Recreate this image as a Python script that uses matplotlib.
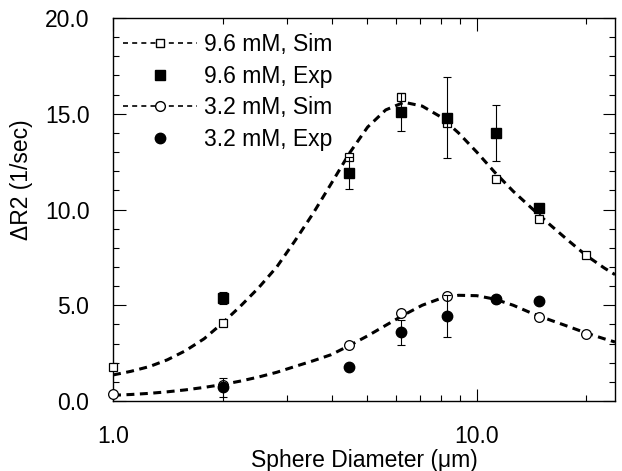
import matplotlib
matplotlib.use("Agg")
import matplotlib.pyplot as plt
from matplotlib.lines import Line2D
from matplotlib.ticker import FixedLocator, NullFormatter, MultipleLocator, FormatStrFormatter, LogLocator

plt.rcParams['font.family'] = ['Liberation Sans', 'DejaVu Sans']

# simulated points
x_sim = [1.0, 2.0, 4.45, 6.2, 8.3, 11.3, 14.8, 20.0]
sim_96 = [1.78, 4.07, 12.74, 15.9, 14.5, 11.6, 9.5, 7.6]
sim_32 = [0.35, 0.83, 2.9, 4.6, 5.48, 5.35, 4.39, 3.5]

# experimental points
x_exp = [2.0, 4.45, 6.2, 8.3, 11.3, 14.8]
exp_96 = [5.38, 11.9, 15.1, 14.8, 14.0, 10.1]
err_96 = [0.3, 0.85, 1.0, 2.1, 1.45, 0.0]
exp_32 = [0.72, 1.78, 3.6, 4.44, 5.35, 5.22]
err_32 = [0.5, 0.0, 0.65, 1.1, 0.0, 0.0]

# dashed fit curves
curve_x = [1.0, 1.12, 1.26, 1.41, 1.58, 1.78, 2.0, 2.24, 2.51, 2.82, 3.16, 3.55, 3.98,
           4.47, 5.01, 5.62, 6.31, 7.08, 7.94, 8.91, 10.0, 11.2, 12.6, 14.1, 15.8,
           17.8, 20.0, 22.4, 24.0]
curve_96 = [1.36, 1.55, 1.8, 2.15, 2.62, 3.25, 4.07, 4.95, 5.9, 7.0, 8.35, 9.8, 11.35,
            12.95, 14.3, 15.2, 15.6, 15.4, 14.85, 14.0, 13.0, 11.95, 10.95, 10.1, 9.25,
            8.4, 7.6, 6.95, 6.6]
curve_32 = [0.3, 0.34, 0.4, 0.48, 0.58, 0.71, 0.86, 1.04, 1.25, 1.5, 1.8, 2.1, 2.42,
            2.9, 3.4, 3.95, 4.5, 5.0, 5.35, 5.52, 5.5, 5.32, 5.0, 4.6, 4.25,
            3.9, 3.55, 3.25, 3.08]

labels = ["9.6 mM, Sim", "9.6 mM, Exp", "3.2 mM, Sim", "3.2 mM, Exp"]

fig = plt.figure(figsize=(6.22, 4.71), dpi=100)
ax = fig.add_axes([0.1817, 0.1486, 0.8071, 0.8132])

dash = (0, (2.6, 1.8))
ax.plot(curve_x, curve_96, color='black', lw=2.2, ls=dash, zorder=2)
ax.plot(curve_x, curve_32, color='black', lw=2.2, ls=dash, zorder=2)

ax.plot(x_sim, sim_96, ls='none', marker='s', ms=6, mfc='white', mec='black', mew=0.9,
        zorder=3, clip_on=False)
ax.plot(x_sim, sim_32, ls='none', marker='o', ms=7, mfc='white', mec='black', mew=0.9,
        zorder=3, clip_on=False)

ax.errorbar(x_exp, exp_96, yerr=err_96, fmt='s', ms=6.5, color='black', ecolor='black',
            elinewidth=0.8, capsize=3.2, capthick=0.8, zorder=4)
ax.errorbar(x_exp, exp_32, yerr=err_32, fmt='o', ms=7.5, color='black', ecolor='black',
            elinewidth=0.8, capsize=3.2, capthick=0.8, zorder=4)

ax.set_xscale('log')
ax.set_xlim(1.0, 24.0)
ax.set_ylim(0.0, 20.0)

ax.xaxis.set_major_locator(FixedLocator([1.0, 10.0]))
ax.xaxis.set_major_formatter(FormatStrFormatter('%.1f'))
ax.xaxis.set_minor_locator(LogLocator(base=10, subs=range(2, 10)))
ax.xaxis.set_minor_formatter(NullFormatter())
ax.yaxis.set_major_locator(MultipleLocator(5.0))
ax.yaxis.set_minor_locator(MultipleLocator(1.0))
ax.yaxis.set_major_formatter(FormatStrFormatter('%.1f'))

ax.tick_params(which='both', direction='in', top=True, right=True, labelsize=16.5, pad=17, width=0.8)
ax.tick_params(which='major', length=9)
ax.tick_params(which='minor', length=4.5)
for s in ax.spines.values():
    s.set_linewidth(1.0)

ax.set_xlabel("Sphere Diameter (\u03bcm)", fontsize=16.5)
ax.xaxis.set_label_coords(0.5, -0.125)
ax.set_ylabel("\u0394R2 (1/sec)", fontsize=16.5)
ax.yaxis.set_label_coords(-0.16, 0.577)

handles = [
    Line2D([], [], color='black', lw=1.2, ls=(0, (3, 2.5)), marker='s', ms=6, mfc='white', mec='black'),
    Line2D([], [], ls='none', marker='s', ms=6.5, color='black'),
    Line2D([], [], color='black', lw=1.2, ls=(0, (3, 2.5)), marker='o', ms=7, mfc='white', mec='black'),
    Line2D([], [], ls='none', marker='o', ms=7.5, color='black'),
]
ax.legend(handles, labels, loc='upper left', bbox_to_anchor=(-0.01, 1.0), frameon=False,
          fontsize=16.5, handlelength=3.25, handletextpad=0.3, labelspacing=0.38,
          numpoints=1, borderaxespad=0.25)

fig.savefig("out.png", dpi=100)
